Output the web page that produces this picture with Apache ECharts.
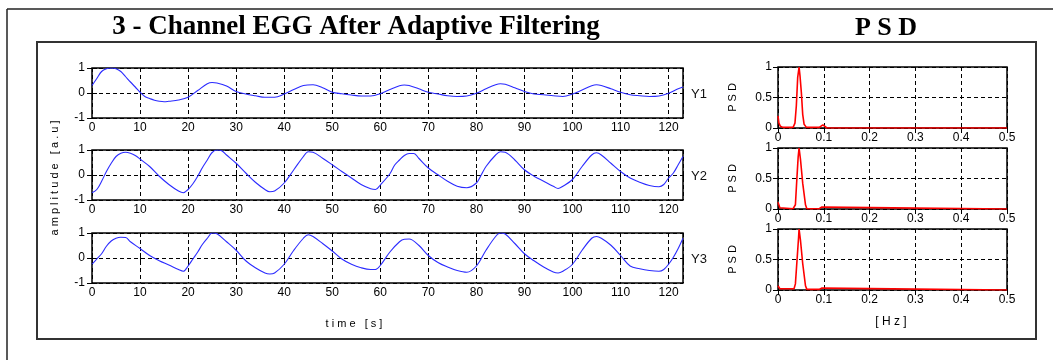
<!DOCTYPE html>
<html>
<head>
<meta charset="utf-8">
<script src="https://cdn.jsdelivr.net/npm/echarts@6/dist/echarts.min.js"></script>
<style>
html,body{margin:0;padding:0;background:#fff;}
#c{width:1053px;height:360px;}
</style>
</head>
<body>
<div id="c"></div>
<script>
// ---- Data ----
const channelNames = ['Y1', 'Y2', 'Y3'];
const timeTicksStep = 10;
const timeMax = 123;
const psdTicksStep = 0.1;
const psdMax = 0.5;

const y1Samples = [[0,0.3],[1,0.58],[2,0.86],[3,0.97],[4,1.0],[5,0.97],[6,0.86],[7,0.65],[8,0.44],[9,0.24],[10,0.03],[11,-0.14],[12,-0.22],[13,-0.29],[14,-0.33],[15,-0.35],[16,-0.33],[18,-0.28],[20,-0.17],[22,0.1],[24,0.37],[25,0.42],[26,0.4],[28,0.28],[30,0.06],[32,-0.04],[34,-0.11],[36,-0.17],[38,-0.17],[40,-0.04],[42,0.14],[44,0.3],[46,0.33],[48,0.21],[50,0.03],[52,-0.03],[54,-0.08],[56,-0.12],[58,-0.12],[60,-0.03],[62,0.14],[64,0.29],[65,0.32],[66,0.3],[68,0.17],[70,0.03],[72,-0.04],[74,-0.11],[76,-0.14],[78,-0.12],[80,-0.01],[82,0.17],[84,0.33],[85,0.37],[86,0.35],[88,0.21],[90,0.06],[92,-0.04],[94,-0.07],[96,-0.11],[98,-0.14],[100,-0.04],[102,0.12],[104,0.29],[105,0.33],[106,0.3],[108,0.17],[110,0.03],[112,-0.07],[114,-0.11],[116,-0.14],[118,-0.12],[120,-0.01],[122,0.17],[123,0.24]];

const y2Samples = [[0,-0.71],[1,-0.58],[2,-0.25],[3,0.14],[4,0.47],[5,0.74],[6,0.87],[7,0.91],[8,0.87],[9,0.78],[10,0.64],[12,0.34],[14,-0.05],[16,-0.38],[18,-0.64],[19,-0.71],[20,-0.58],[21,-0.35],[22,-0.05],[23,0.3],[24,0.6],[25,0.9],[26,1.0],[27,0.97],[28,0.8],[30,0.47],[32,0.08],[34,-0.29],[36,-0.58],[37,-0.67],[38,-0.64],[40,-0.32],[42,0.21],[44,0.74],[45,0.93],[46,0.91],[48,0.67],[50,0.41],[52,0.14],[54,-0.12],[56,-0.38],[58,-0.55],[59,-0.58],[60,-0.4],[62,0.05],[63,0.4],[64,0.6],[65,0.78],[66,0.86],[67,0.86],[68,0.67],[70,0.28],[72,0.01],[74,-0.25],[76,-0.45],[78,-0.51],[80,-0.32],[81,0.0],[82,0.34],[84,0.8],[85,0.93],[86,0.91],[88,0.6],[90,0.21],[92,-0.05],[94,-0.25],[96,-0.45],[97,-0.54],[98,-0.45],[100,-0.18],[102,0.34],[104,0.8],[105,0.89],[106,0.8],[108,0.47],[110,0.14],[112,-0.12],[114,-0.29],[116,-0.42],[118,-0.47],[119,-0.38],[120,-0.12],[121,0.08],[122,0.41],[123,0.74]];

const y3Samples = [[0,-0.25],[1,-0.04],[2,0.17],[3,0.47],[4,0.68],[5,0.79],[6,0.83],[7,0.82],[8,0.65],[10,0.38],[12,0.1],[14,-0.11],[16,-0.28],[18,-0.46],[19,-0.53],[20,-0.32],[21,-0.04],[22,0.24],[23,0.55],[24,0.79],[25,1.0],[26,0.97],[28,0.65],[30,0.31],[32,-0.11],[34,-0.39],[36,-0.6],[37,-0.64],[38,-0.6],[40,-0.25],[42,0.31],[44,0.79],[45,0.93],[46,0.86],[48,0.58],[50,0.28],[52,-0.04],[54,-0.25],[56,-0.39],[58,-0.46],[59,-0.46],[60,-0.3],[62,0.24],[64,0.65],[65,0.75],[66,0.76],[68,0.51],[70,0.1],[72,-0.18],[74,-0.36],[76,-0.5],[78,-0.57],[80,-0.32],[82,0.31],[84,0.86],[85,1.0],[86,0.96],[88,0.58],[90,0.17],[92,-0.11],[94,-0.36],[96,-0.56],[97,-0.6],[98,-0.53],[100,-0.25],[102,0.31],[104,0.79],[105,0.86],[106,0.79],[108,0.51],[110,0.1],[112,-0.32],[114,-0.43],[116,-0.5],[118,-0.53],[119,-0.46],[120,-0.25],[121,0.03],[122,0.38],[123,0.79]];

const psd1Samples = [[0,0.2],[0.002,0.08],[0.005,0.03],[0.011,0.01],[0.033,0.01],[0.037,0.08],[0.04,0.36],[0.043,0.83],[0.046,1.0],[0.048,0.86],[0.051,0.58],[0.054,0.22],[0.057,0.06],[0.062,0.01],[0.09,0.01],[0.094,0.04],[0.098,0.05],[0.102,0.04],[0.107,0.0],[0.5,0.0]];
const psd2Samples = [[0,0.11],[0.004,0.02],[0.008,0.005],[0.033,0.005],[0.038,0.07],[0.041,0.47],[0.044,0.85],[0.046,1.0],[0.049,0.82],[0.054,0.42],[0.06,0.07],[0.063,0.005],[0.09,0.005],[0.095,0.03],[0.1,0.03],[0.104,0.0],[0.5,0.0]];
const psd3Samples = [[0,0.07],[0.004,0.02],[0.035,0.02],[0.038,0.1],[0.042,0.54],[0.045,0.87],[0.046,1.0],[0.049,0.82],[0.054,0.43],[0.06,0.07],[0.063,0.01],[0.09,0.01],[0.095,0.03],[0.1,0.03],[0.104,0.0],[0.5,0.0]];

const timeSeries = [y1Samples, y2Samples, y3Samples];
const psdSeries = [psd1Samples, psd2Samples, psd3Samples];

// ---- Layout ----
const tsLeft = 92, tsWidth = 591, tsHeight = 50, tsTops = [68, 150, 233];
const psdLeft = 778, psdWidth = 229, psdHeight = 61, psdTops = [67, 148, 229];
const FONT = '"Liberation Sans", Arial, sans-serif';
const DASH = [4, 3];

const grid = [], xAxis = [], yAxis = [], series = [];

function addPanel(left, top, width, height, xCfg, yCfg, data, color, smooth) {
  const g = grid.length;
  grid.push({left, top, width, height, show: true, borderColor: '#000', borderWidth: 1.5, backgroundColor: '#fff', containLabel: false});
  const xi = xAxis.length;
  xAxis.push({
    gridIndex: g, type: 'value', min: 0, max: xCfg.max, interval: xCfg.interval, position: 'bottom',
    axisLine: {show: false},
    axisTick: {show: true, inside: true, length: 5, lineStyle: {color: '#000', width: 1}},
    axisLabel: {show: true, color: '#000', fontSize: 12, fontFamily: FONT, margin: 4, showMaxLabel: xCfg.showMax,
      formatter: xCfg.fmt},
    splitLine: {show: true, lineStyle: {color: '#000', type: DASH, width: 1}}
  });
  xAxis.push({
    gridIndex: g, type: 'value', min: 0, max: xCfg.max, interval: xCfg.interval, position: 'top',
    axisLine: {show: false},
    axisTick: {show: true, inside: true, length: 5, lineStyle: {color: '#000', width: 1}},
    axisLabel: {show: false}, splitLine: {show: false}
  });
  const yi = yAxis.length;
  yAxis.push({
    gridIndex: g, type: 'value', min: yCfg.min, max: yCfg.max, interval: yCfg.interval, position: 'left',
    axisLine: {show: false},
    axisTick: {show: true, inside: true, length: 5, lineStyle: {color: '#000', width: 1}},
    axisLabel: {show: true, color: '#000', fontSize: 12, fontFamily: FONT, margin: yCfg.margin},
    splitLine: {show: true, lineStyle: {color: '#000', type: DASH, width: 1}}
  });
  yAxis.push({
    gridIndex: g, type: 'value', min: yCfg.min, max: yCfg.max, interval: yCfg.interval, position: 'right',
    axisLine: {show: false},
    axisTick: {show: true, inside: true, length: 5, lineStyle: {color: '#000', width: 1}},
    axisLabel: {show: false}, splitLine: {show: false}
  });
  series.push({
    type: 'line', xAxisIndex: xi, yAxisIndex: yi, data: data, showSymbol: false, symbol: 'none',
    smooth: smooth, clip: true, silent: true, animation: false,
    lineStyle: {color: color, width: color === '#ff0000' ? 1.6 : 1.1}
  });
}

for (let i = 0; i < 3; i++) {
  addPanel(tsLeft, tsTops[i], tsWidth, tsHeight,
    {max: timeMax, interval: timeTicksStep, showMax: false, fmt: v => (v % 10 === 0 ? String(v) : '')},
    {min: -1, max: 1, interval: 1, margin: 7},
    timeSeries[i], '#2b2bff', 0.35);
}
for (let i = 0; i < 3; i++) {
  addPanel(psdLeft, psdTops[i], psdWidth, psdHeight,
    {max: psdMax, interval: psdTicksStep, showMax: true, fmt: v => String(Math.round(v * 10) / 10)},
    {min: 0, max: 1, interval: 0.5, margin: 6},
    psdSeries[i], '#ff0000', false);
}

const graphic = [
  // outer frame (left and top edges)
  {type: 'line', shape: {x1: 7, y1: 9, x2: 7, y2: 370}, style: {stroke: '#222', lineWidth: 1.5}, silent: true},
  {type: 'line', shape: {x1: 7, y1: 9, x2: 1060, y2: 9}, style: {stroke: '#222', lineWidth: 1.5}, silent: true},
  // inner box
  {type: 'rect', shape: {x: 37, y: 42, width: 999, height: 297}, style: {fill: 'none', stroke: '#333', lineWidth: 2}, silent: true, z: -1},
  // titles
  {type: 'text', x: 356, y: 27, style: {text: '3 - Channel EGG After Adaptive Filtering', font: 'bold 27px "Liberation Serif", "Times New Roman", serif', fill: '#000', align: 'center', verticalAlign: 'middle'}},
  {type: 'text', x: 886, y: 28, style: {text: 'P S D', font: 'bold 26px "Liberation Serif", "Times New Roman", serif', fill: '#000', align: 'center', verticalAlign: 'middle'}},
  // axis titles
  {type: 'text', x: 55, y: 178, rotation: Math.PI / 2, style: {text: 'a m p l i t u d e   [ a . u ]', font: '11px ' + FONT, fill: '#000', align: 'center', verticalAlign: 'middle'}},
  {type: 'text', x: 354, y: 324, style: {text: 't i m e   [ s ]', font: '11px ' + FONT, fill: '#000', align: 'center', verticalAlign: 'middle'}},
  {type: 'text', x: 891, y: 322, style: {text: '[ H z ]', font: '12px ' + FONT, fill: '#000', align: 'center', verticalAlign: 'middle'}}
];
for (let i = 0; i < 3; i++) {
  graphic.push({type: 'text', x: 691, y: tsTops[i] + tsHeight / 2 + 1, style: {text: channelNames[i], font: '13px ' + FONT, fill: '#111', align: 'left', verticalAlign: 'middle'}});
  graphic.push({type: 'text', x: 733, y: psdTops[i] + psdHeight / 2, rotation: Math.PI / 2, style: {text: 'P S D', font: '11px ' + FONT, fill: '#000', align: 'center', verticalAlign: 'middle'}});
}

const chart = echarts.init(document.getElementById('c'), null, {renderer: 'canvas'});
chart.setOption({
  backgroundColor: '#fff',
  animation: false,
  grid, xAxis, yAxis, series, graphic
});
</script>
</body>
</html>
